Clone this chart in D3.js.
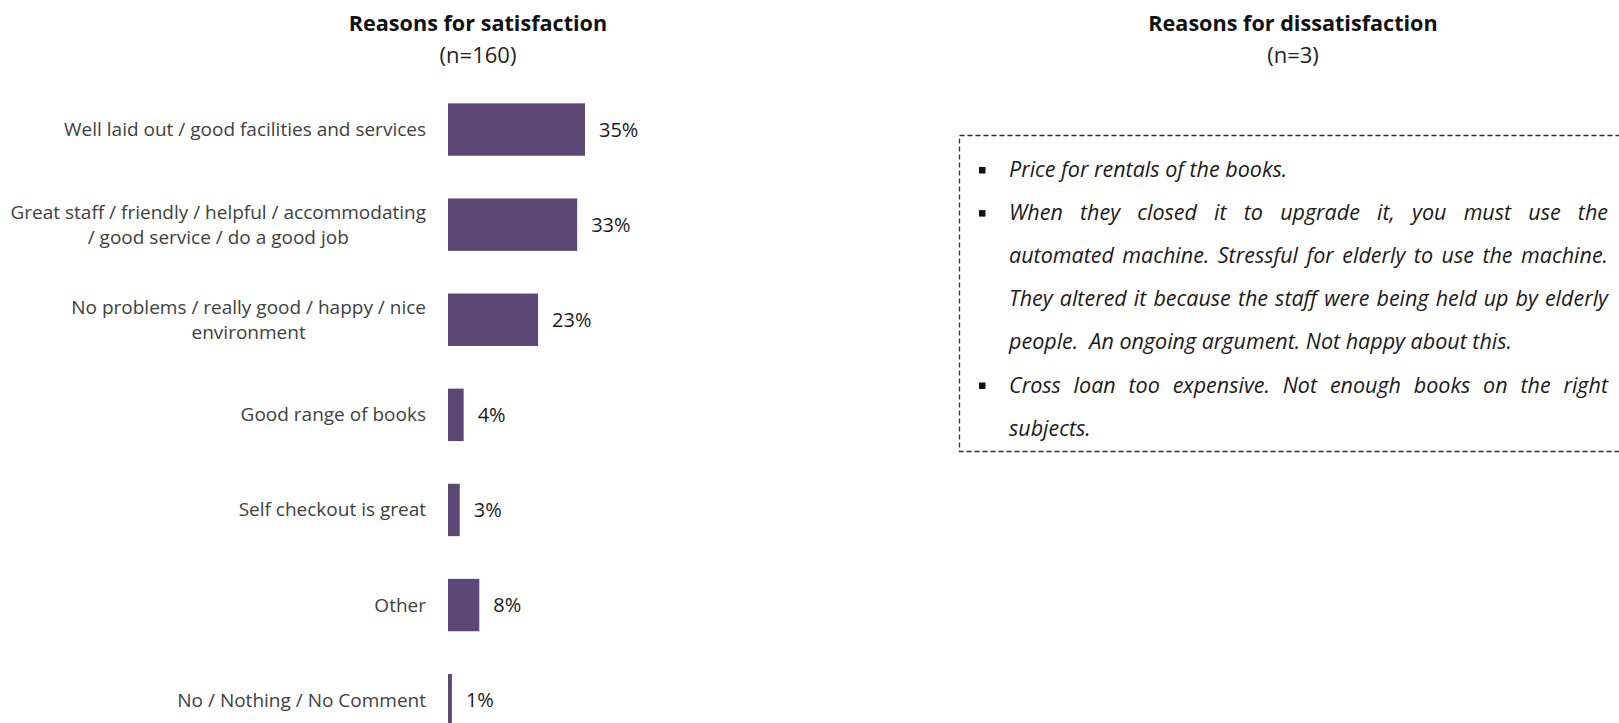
<!DOCTYPE html>
<html>
<head>
<meta charset="utf-8">
<script src="https://cdn.jsdelivr.net/npm/d3@7"></script>
<style>
  html, body { margin: 0; padding: 0; background: #fff; }
  svg { display: block; font-family: "Open Sans", Lato, sans-serif; }
</style>
</head>
<body>
<svg id="chart" width="1619" height="723"></svg>
<script>
// Reasons for satisfaction (share of respondents, %)
const categories = [
  ["Well laid out / good facilities and services"],
  ["Great staff / friendly / helpful / accommodating", "/ good service / do a good job"],
  ["No problems / really good / happy / nice", "environment"],
  ["Good range of books"],
  ["Self checkout is great"],
  ["Other"],
  ["No / Nothing / No Comment"]
];
const values = [35, 33, 23, 4, 3, 8, 1];

const leftTitle = "Reasons for satisfaction";
const leftSubtitle = "(n=160)";
const rightTitle = "Reasons for dissatisfaction";
const rightSubtitle = "(n=3)";

// Verbatim comments on dissatisfaction, pre-broken into lines
const comments = [
  ["Price for rentals of the books."],
  ["When they closed it to upgrade it, you must use the",
   "automated machine. Stressful for elderly to use the machine.",
   "They altered it because the staff were being held up by elderly",
   "people.  An ongoing argument. Not happy about this."],
  ["Cross loan too expensive. Not enough books on the right",
   "subjects."]
];

const svg = d3.select("#chart");
const barColor = "#5d4777";

// ---- left panel: horizontal bar chart ----
const x = d3.scaleLinear().domain([0, 35]).range([448, 585]);
const y = d3.scaleBand()
  .domain(d3.range(categories.length))
  .range([82, 747.7])
  .paddingInner(0.449)
  .paddingOuter(0.2245);

const left = svg.append("g");

left.append("text")
  .attr("x", 478).attr("y", 31)
  .attr("text-anchor", "middle")
  .attr("font-size", 21.6).attr("font-weight", 700).attr("fill", "#111")
  .text(leftTitle);
left.append("text")
  .attr("x", 478).attr("y", 63)
  .attr("text-anchor", "middle")
  .attr("font-size", 22).attr("fill", "#222")
  .text(leftSubtitle);

const rows = left.selectAll("g.row")
  .data(values.map((v, i) => ({ v, i, lines: categories[i] })))
  .join("g").attr("class", "row");

rows.append("rect")
  .attr("x", x(0))
  .attr("y", d => y(d.i))
  .attr("width", d => x(d.v) - x(0))
  .attr("height", y.bandwidth())
  .attr("fill", barColor);

rows.append("text")
  .attr("x", d => x(d.v) + 14)
  .attr("y", d => y(d.i) + y.bandwidth() / 2 + 7)
  .attr("font-size", 20).attr("fill", "#1a1a1a")
  .text(d => d.v + "%");

// Category labels: block right-aligned to the axis, lines centred inside it
const labelRight = 426;
const lineGap = 25;
rows.each(function (d) {
  const g = d3.select(this);
  const cy = y(d.i) + y.bandwidth() / 2;
  const n = d.lines.length;
  const t = g.append("text")
    .attr("font-size", 19).attr("fill", "#404040");
  const spans = d.lines.map((line, k) =>
    t.append("tspan")
      .attr("y", cy + 6.5 + (k - (n - 1) / 2) * lineGap)
      .text(line));
  const widths = spans.map(s => s.node().getComputedTextLength());
  const maxW = d3.max(widths);
  spans.forEach(s => s.attr("x", labelRight - maxW / 2).attr("text-anchor", "middle"));
});

// ---- right panel: verbatim comments in a dashed box ----
const right = svg.append("g");
const rcx = 1293;
right.append("text")
  .attr("x", rcx).attr("y", 31)
  .attr("text-anchor", "middle")
  .attr("font-size", 21.6).attr("font-weight", 700).attr("fill", "#111")
  .text(rightTitle);
right.append("text")
  .attr("x", rcx).attr("y", 63)
  .attr("text-anchor", "middle")
  .attr("font-size", 22).attr("fill", "#222")
  .text(rightSubtitle);

right.append("rect")
  .attr("x", 959.5).attr("y", 135.5)
  .attr("width", 700).attr("height", 316)
  .attr("fill", "none")
  .attr("stroke", "#333").attr("stroke-width", 1.3)
  .attr("stroke-dasharray", "5,3");

const textLeft = 1009, textRight = 1608;
const firstBaseline = 177, lineStep = 43.1;
let lineNo = 0;
comments.forEach(item => {
  right.append("rect")
    .attr("x", 979).attr("y", firstBaseline + lineNo * lineStep - 10)
    .attr("width", 6.5).attr("height", 6.5)
    .attr("fill", "#111");
  item.forEach((line, k) => {
    const by = firstBaseline + lineNo * lineStep;
    const last = k === item.length - 1;
    const t = right.append("text")
      .attr("y", by)
      .attr("font-size", 21.5).attr("font-style", "italic").attr("fill", "#1a1a1a");
    if (last) {
      t.attr("x", textLeft).attr("xml:space", "preserve").text(line);
    } else {
      // justified: spread words evenly over the full line width
      const words = line.split(/\s+/);
      const spans = words.map(w => t.append("tspan").attr("y", by).text(w));
      const ws = spans.map(s => s.node().getComputedTextLength());
      const gap = (textRight - textLeft - d3.sum(ws)) / (words.length - 1);
      let cx = textLeft;
      spans.forEach((s, j) => { s.attr("x", cx); cx += ws[j] + gap; });
    }
    lineNo++;
  });
});
</script>
</body>
</html>
